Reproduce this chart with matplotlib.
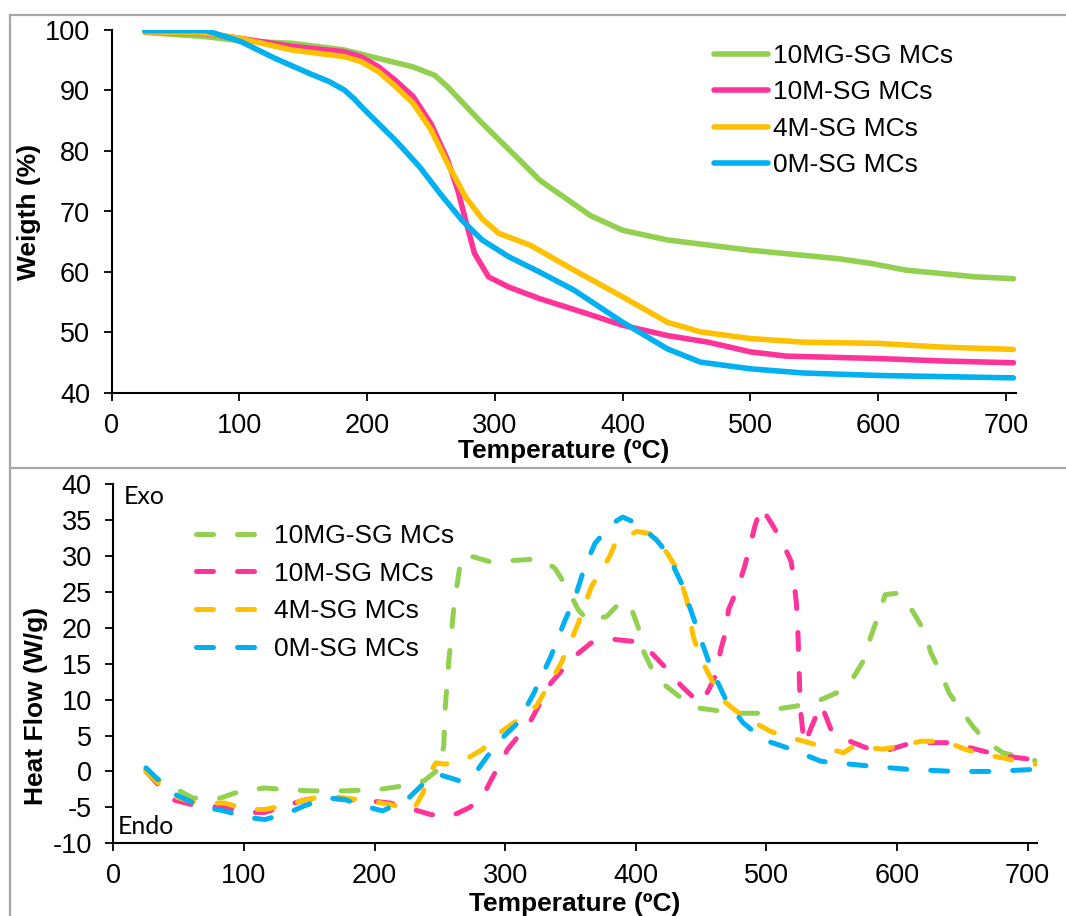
import matplotlib
matplotlib.use("Agg")
import matplotlib.pyplot as plt
from matplotlib.lines import Line2D

# === dados ===
series = ["10MG-SG MCs", "10M-SG MCs", "4M-SG MCs", "0M-SG MCs"]
cores = ["#92D050", "#FF3399", "#FFC000", "#00B0F0"]

# TGA (peso %)
tga_x_10mg = [26, 74, 101, 141, 182, 209, 236, 253, 263, 290, 317, 335, 345, 354, 375, 400, 435, 500, 569, 595, 622, 662, 676, 706]
tga_y_10mg = [99.6, 98.9, 98.2, 97.8, 96.7, 95.3, 93.9, 92.5, 90.6, 84.6, 79.0, 75.2, 73.7, 72.4, 69.3, 66.9, 65.3, 63.6, 62.2, 61.4, 60.3, 59.5, 59.2, 58.9]
tga_x_10m = [27, 74, 101, 141, 182, 195, 209, 222, 236, 250, 263, 271, 277, 284, 295, 311, 335, 368, 400, 435, 467, 500, 528, 600, 649, 706]
tga_y_10m = [99.7, 99.4, 98.6, 97.3, 96.4, 95.6, 93.9, 91.7, 89.0, 84.5, 78.5, 73.5, 68.6, 63.1, 59.2, 57.5, 55.6, 53.4, 51.2, 49.5, 48.4, 46.8, 46.1, 45.7, 45.3, 45.0]
tga_x_4m = [27, 74, 101, 141, 182, 195, 209, 222, 236, 250, 263, 277, 290, 303, 328, 362, 400, 435, 461, 500, 542, 600, 649, 706]
tga_y_4m = [99.7, 99.5, 98.6, 96.7, 95.6, 94.8, 93.1, 90.7, 87.9, 83.5, 77.9, 72.4, 68.8, 66.4, 64.4, 60.3, 55.9, 51.7, 50.1, 49.0, 48.4, 48.2, 47.6, 47.2]
tga_x_0m = [26, 74, 101, 128, 155, 170, 182, 190, 198, 222, 241, 257, 274, 290, 311, 335, 362, 400, 435, 461, 500, 542, 600, 706]
tga_y_0m = [99.9, 99.9, 98.1, 95.3, 92.8, 91.5, 90.1, 88.6, 86.8, 81.8, 77.4, 73.0, 68.6, 65.3, 62.5, 60.0, 57.0, 51.7, 47.3, 45.1, 44.0, 43.3, 42.9, 42.5]

# DSC (fluxo de calor W/g)
dsc_x_10mg = [25, 34, 61, 82, 98, 116, 130, 151, 177, 204, 222, 238, 249, 253, 254, 257, 261, 265, 268, 275, 288, 310, 327,
              338, 347, 356, 364, 378, 389, 397, 402, 406, 412, 423, 435, 449, 465, 474, 495, 512, 523, 542, 557, 567, 575,
              580, 585, 591, 600, 606, 613, 621, 626, 633, 640, 648, 658, 668, 681, 697, 706]
dsc_y_10mg = [0.3, -1.1, -3.7, -3.7, -2.7, -2.3, -2.5, -2.7, -2.7, -2.5, -2.0, -1.3, 0.3, 3.5, 8.6, 15.6, 23.4, 28.1, 30.1, 29.9, 29.2, 29.4, 29.6,
              28.3, 25.7, 22.5, 20.9, 21.6, 23.7, 22.5, 20.0, 16.7, 14.4, 11.9, 10.2, 8.8, 8.4, 8.1, 8.1, 8.8, 9.1, 10.0, 11.2, 13.2, 15.6,
              18.8, 21.3, 24.6, 24.8, 24.0, 22.0, 19.5, 16.5, 13.9, 10.9, 8.8, 6.3, 4.2, 2.6, 1.9, 1.5]
dsc_x_10m = [25, 45, 64, 85, 103, 116, 135, 148, 164, 177, 196, 212, 230, 243, 259, 273, 283, 291, 302, 310, 320, 335, 353, 366,
             382, 398, 411, 422, 435, 443, 450, 456, 462, 465, 469, 471, 478, 483, 487, 491, 496, 504, 512, 519, 521, 523,
             524, 525, 526, 528, 529, 533, 538, 542, 550, 564, 579, 590, 608, 621, 641, 656, 671, 684, 702, 707]
dsc_y_10m = [0.0, -3.9, -4.8, -5.0, -5.7, -5.7, -4.6, -3.9, -3.7, -3.9, -4.1, -4.4, -5.3, -6.0, -6.2, -5.0, -3.4, -0.6, 3.1, 4.9, 7.2, 12.3, 16.0, 17.9,
             18.4, 18.1, 16.7, 14.6, 11.9, 10.5, 9.5, 11.4, 13.7, 16.9, 19.5, 22.5, 25.5, 28.3, 31.0, 34.0, 36.8, 34.5, 32.0, 29.2, 26.7, 23.4,
             20.4, 14.6, 8.8, 5.4, 3.8, 5.5, 7.7, 9.3, 5.6, 4.2, 3.1, 2.8, 3.8, 4.0, 4.0, 3.3, 2.6, 2.1, 1.7, 0.8]
dsc_x_4m = [25, 45, 64, 85, 103, 116, 135, 148, 164, 177, 196, 212, 230, 237, 243, 247, 254, 270, 283, 296, 310, 324, 343, 356,
            366, 380, 385, 401, 411, 424, 432, 439, 444, 450, 458, 466, 477, 487, 503, 513, 529, 545, 559, 567, 589, 603,
            618, 637, 652, 665, 681, 697, 706]
dsc_y_4m = [0.0, -3.4, -4.4, -4.4, -5.3, -5.3, -4.6, -3.9, -3.4, -3.7, -4.1, -4.6, -5.3, -3.0, 0.0, 1.2, 1.0, 1.7, 3.1, 5.4, 7.2, 9.1, 15.1, 20.6,
            25.7, 29.9, 32.0, 33.4, 33.1, 30.4, 28.0, 23.9, 18.8, 15.6, 12.8, 10.0, 8.4, 7.2, 5.6, 4.9, 4.2, 3.3, 2.6, 3.5, 3.1, 3.5,
            4.2, 4.2, 3.1, 2.4, 1.9, 1.2, 1.0]
dsc_x_0m = [25, 45, 58, 71, 85, 103, 116, 135, 146, 164, 177, 196, 206, 225, 238, 249, 265, 278, 294, 310, 322, 335, 346, 353,
            361, 369, 382, 390, 401, 416, 424, 435, 443, 450, 458, 469, 482, 498, 519, 542, 582, 608, 644, 673, 707]
dsc_y_0m = [0.5, -3.0, -4.1, -5.0, -5.5, -6.4, -6.7, -5.7, -4.8, -3.7, -3.9, -5.0, -5.5, -3.9, -1.6, -0.4, -1.3, 0.0, 4.0, 6.8, 10.9, 16.0, 21.1, 23.9,
            28.5, 31.8, 34.5, 35.4, 34.5, 32.2, 30.4, 26.2, 22.0, 18.3, 14.2, 10.0, 6.8, 4.4, 3.1, 1.4, 0.7, 0.3, 0.0, 0.0, 0.3]

tga = [(tga_x_10mg, tga_y_10mg), (tga_x_10m, tga_y_10m), (tga_x_4m, tga_y_4m), (tga_x_0m, tga_y_0m)]
dsc = [(dsc_x_10mg, dsc_y_10mg), (dsc_x_10m, dsc_y_10m), (dsc_x_4m, dsc_y_4m), (dsc_x_0m, dsc_y_0m)]

plt.rcParams['font.family'] = ['Liberation Sans', 'DejaVu Sans']
plt.rcParams['axes.unicode_minus'] = False

W, H = 1066, 916
fig = plt.figure(figsize=(W / 100, H / 100), dpi=100)

# molduras cinzas dos dois paineis
borda = dict(color="#A6A6A6", lw=1.6, transform=fig.transFigure)
fig.add_artist(Line2D([10 / W, 1], [1 - 15 / H, 1 - 15 / H], **borda))
fig.add_artist(Line2D([10 / W, 1], [1 - 468 / H, 1 - 468 / H], **borda))
fig.add_artist(Line2D([10 / W, 10 / W], [0, 1 - 15 / H], **borda))

ax1 = fig.add_axes([111.7 / W, 1 - 393 / H, (1016 - 111.7) / W, (393 - 30) / H])
ax2 = fig.add_axes([113.3 / W, 1 - 843.3 / H, (1036.7 - 113.3) / W, (843.3 - 484) / H])


def estilo(ax):
    for s in ["top", "right"]:
        ax.spines[s].set_visible(False)
    for s in ["left", "bottom"]:
        ax.spines[s].set_linewidth(1.5)
    ax.tick_params(axis="both", direction="out", length=5.5, width=1.3, labelsize=19.5)
    ax.tick_params(axis="x", pad=9)
    ax.tick_params(axis="y", pad=10)


# === TGA ===
for (x, y), c, nome in zip(tga, cores, series):
    ax1.plot(x, y, color=c, lw=4, solid_capstyle="round", solid_joinstyle="round", label=nome)
ax1.set_xlim(0, 708)
ax1.set_ylim(40, 100)
ax1.set_xticks(range(0, 701, 100))
ax1.set_yticks(range(40, 101, 10))
estilo(ax1)
ax1.set_xlabel("Temperature (ºC)", fontsize=19, fontweight="bold", labelpad=0)
ax1.set_ylabel("Weigth (%)", fontsize=19, fontweight="bold")
ax1.yaxis.set_label_coords(-0.078, 0.5)
ax1.legend(loc="upper left", bbox_to_anchor=(714 / W, 1 - 44 / H), bbox_transform=fig.transFigure,
           frameon=False, fontsize=19, handlelength=2.05, handletextpad=0.2, labelspacing=0.47,
           borderpad=0, borderaxespad=0)

# === DSC ===
for (x, y), c, nome in zip(dsc, cores, series):
    ax2.plot(x, y, color=c, lw=3.6, dash_capstyle="round", linestyle=(0, (3.4, 4.8)), label=nome)
ax2.set_xlim(0, 707)
ax2.set_ylim(-10, 40)
ax2.set_xticks(range(0, 701, 100))
ax2.set_yticks(range(-10, 41, 5))
estilo(ax2)
ax2.set_xlabel("Temperature (ºC)", fontsize=19, fontweight="bold", labelpad=2)
ax2.set_ylabel("Heat Flow (W/g)", fontsize=19, fontweight="bold")
ax2.yaxis.set_label_coords(-0.071, 0.383)
ax2.text(0.0115, 0.964, "Exo", transform=ax2.transAxes, fontsize=18, family="Lato", va="center", ha="left")
ax2.text(0.0043, 0.047, "Endo", transform=ax2.transAxes, fontsize=18, family="Lato", va="center", ha="left")
ax2.legend(loc="upper left", bbox_to_anchor=(196 / W, 1 - 524 / H), bbox_transform=fig.transFigure,
           frameon=False, fontsize=19, handlelength=2.5, handletextpad=0.45, labelspacing=0.52,
           borderpad=0, borderaxespad=0)

fig.savefig("out.png", dpi=100)
